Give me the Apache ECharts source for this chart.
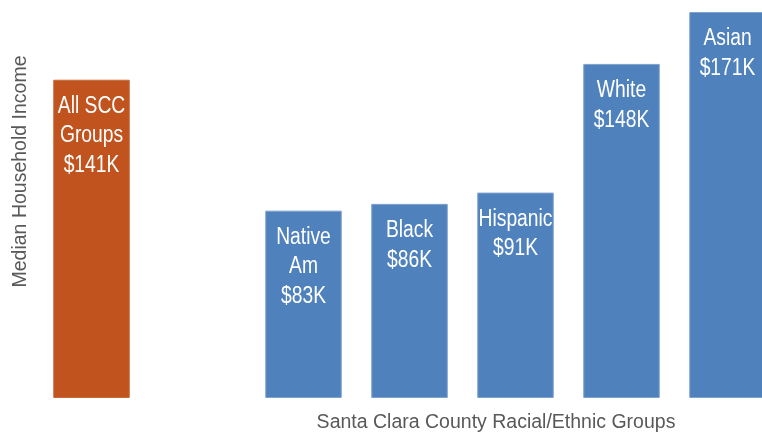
<!DOCTYPE html>
<html>
<head>
<meta charset="utf-8">
<script src="https://cdn.jsdelivr.net/npm/echarts@6/dist/echarts.min.js"></script>
<style>
html, body { margin: 0; padding: 0; background: #fff; }
#chart { width: 762px; height: 435px; }
</style>
</head>
<body>
<div id="chart"></div>
<script>
const categories = ['All SCC Groups', '', 'Native Am', 'Black', 'Hispanic', 'White', 'Asian'];
const labelNames = ['All SCC\nGroups', '', 'Native\nAm', 'Black', 'Hispanic', 'White', 'Asian'];
const incomeK = [141, null, 83, 86, 91, 148, 171];
const barColors = ['#C0531E', '#4F81BD', '#4F81BD', '#4F81BD', '#4F81BD', '#4F81BD', '#4F81BD'];
const xTitle = 'Santa Clara County Racial/Ethnic Groups';
const yTitle = 'Median Household Income';

const labelData = [];
incomeK.forEach((v, i) => { if (v != null) labelData.push([i, v]); });

const chart = echarts.init(document.getElementById('chart'), null, { renderer: 'canvas' });
chart.setOption({
  animation: false,
  grid: { left: 91.5, right: 34.5, top: 12, bottom: 37, containLabel: false },
  xAxis: {
    type: 'category',
    data: categories,
    boundaryGap: false,
    axisLine: { show: false },
    axisTick: { show: false },
    axisLabel: { show: false },
    splitLine: { show: false }
  },
  yAxis: {
    type: 'value',
    min: 0,
    max: 171,
    show: false
  },
  graphic: [
    {
      type: 'text',
      x: 20.5, y: 171.5,
      rotation: Math.PI / 2,
      style: {
        text: yTitle,
        fill: '#595959',
        fontFamily: 'Liberation Sans, Arial, sans-serif',
        fontSize: 19.5,
        align: 'center',
        verticalAlign: 'middle'
      }
    },
    {
      type: 'text',
      x: 496, y: 423,
      style: {
        text: xTitle,
        fill: '#595959',
        fontFamily: 'Liberation Sans, Arial, sans-serif',
        fontSize: 19.5,
        align: 'center',
        verticalAlign: 'middle'
      }
    }
  ],
  series: [
    {
      type: 'bar',
      clip: false,
      barWidth: 76.5,
      data: incomeK.map((v, i) => ({
        value: v,
        itemStyle: { color: barColors[i], borderColor: i === 0 ? '#C86A3C' : '#7FA3D1', borderWidth: 1 }
      }))
    },
    {
      type: 'custom',
      z: 10,
      clip: false,
      data: labelData,
      renderItem: function (params, api) {
        const i = api.value(0);
        const v = api.value(1);
        const pt = api.coord([i, v]);
        return {
          type: 'text',
          x: pt[0],
          y: pt[1] + 12,
          scaleX: 0.82,
          style: {
            text: labelNames[i] + '\n$' + v + 'K',
            fill: '#ffffff',
            fontFamily: '"Liberation Sans", Arial, sans-serif',
            fontSize: 23.5,
            lineHeight: 29.5,
            align: 'center',
            verticalAlign: 'top'
          }
        };
      }
    }
  ]
});
</script>
</body>
</html>
